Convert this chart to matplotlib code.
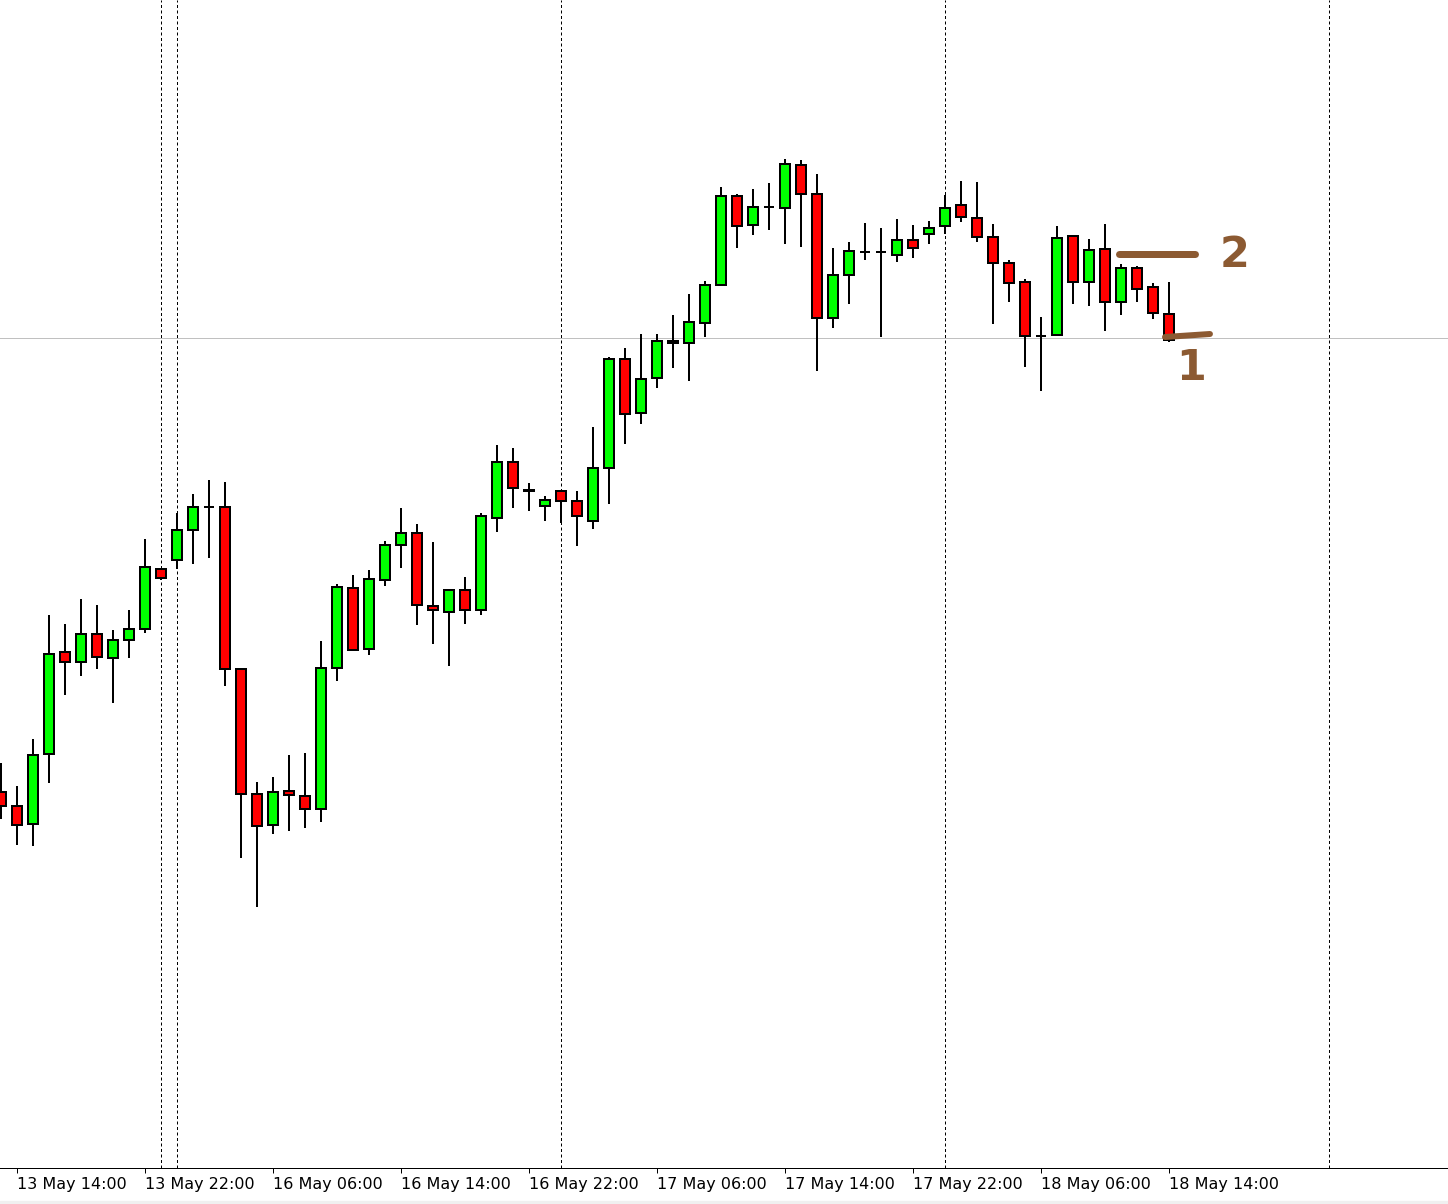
import matplotlib
matplotlib.use("Agg")
import matplotlib.pyplot as plt
from matplotlib.patches import Rectangle

# hourly candles, price levels (screen units, bottom = 0)
opens = [376, 362, 344, 414, 516, 506, 534, 510, 528, 539,
         599, 608, 638, 661, 661, 499, 374, 343, 377, 372,
         359, 500, 580, 519, 588, 623, 635, 562, 556, 578,
         558, 650, 706, 678, 662, 677, 667, 647, 700, 809,
         755, 790, 827, 825, 845, 883, 972, 943, 961, 960,
         1003, 974, 850, 893, 916, 916, 913, 928, 934, 942,
         963, 950, 931, 905, 886, 832, 833, 932, 886, 919,
         866, 900, 881, 854]
highs = [405, 382, 429, 553, 544, 569, 563, 538, 558, 629,
         599, 655, 674, 688, 686, 499, 386, 391, 413, 415,
         527, 584, 593, 598, 627, 660, 644, 626, 578, 591,
         655, 723, 720, 685, 672, 678, 677, 741, 811, 820,
         834, 834, 853, 874, 887, 981, 974, 979, 985, 1009,
         1008, 994, 920, 926, 945, 940, 949, 943, 947, 973,
         987, 986, 944, 908, 889, 851, 942, 933, 929, 944,
         904, 902, 885, 886]
lows = [349, 323, 322, 385, 473, 492, 499, 465, 510, 535,
        588, 599, 604, 610, 482, 310, 261, 334, 337, 340,
        346, 487, 518, 513, 582, 600, 543, 524, 502, 544,
        553, 636, 660, 657, 647, 645, 622, 639, 664, 724,
        744, 780, 800, 787, 831, 883, 920, 933, 938, 924,
        921, 797, 840, 864, 908, 831, 906, 910, 924, 934,
        946, 926, 844, 866, 801, 777, 833, 864, 862, 837,
        853, 866, 849, 826]
closes = [362, 343, 413, 514, 506, 534, 511, 528, 539, 601,
          590, 638, 661, 661, 499, 374, 342, 376, 373, 359,
          500, 581, 518, 589, 623, 635, 563, 558, 578, 558,
          652, 706, 680, 677, 668, 667, 652, 700, 809, 754,
          789, 827, 825, 846, 883, 972, 942, 961, 961, 1004,
          974, 850, 893, 917, 916, 916, 928, 920, 940, 960,
          951, 931, 905, 885, 832, 832, 930, 886, 918, 866,
          900, 879, 855, 828]

tick_idx = [1, 9, 17, 25, 33, 41, 49, 57, 65, 73]
tick_labels = ["13 May 14:00", "13 May 22:00", "16 May 06:00", "16 May 14:00",
               "16 May 22:00", "17 May 06:00", "17 May 14:00", "17 May 22:00",
               "18 May 06:00", "18 May 14:00"]
separators = [10, 11, 35, 59, 83]
hline_level = 830

# hand drawn marks on the right
mark2_x, mark2_level = (69.9, 74.6), 914
mark1_x, mark1_level = (72.75, 75.56), (831, 834)
BROWN = "#8c5a32"

W, H = 1448, 1204
fig = plt.figure(figsize=(W / 100, H / 100), dpi=100)
ax = fig.add_axes([0, 36 / H, 1, 1168 / H])

px = 0.72  # one pixel in points

for x in separators:
    ax.axvline(x, color="black", lw=px, ls=(0, (3, 2.5)), zorder=1)
ax.axhline(hline_level, color="#c0c0c0", lw=px, zorder=1, antialiased=False)

idx = list(range(len(opens)))
ax.vlines(idx, lows, highs, color="black", lw=1.5 * px, zorder=2,
          antialiased=False)
for i in idx:
    o, c = opens[i], closes[i]
    col = "#00ff00" if c > o else "#ff0000"
    ax.bar(i, abs(c - o) if c != o else 0.001, bottom=min(o, c), width=0.57,
           color=col, edgecolor="black", linewidth=1.5 * px, zorder=3,
           antialiased=False)

# annotations
ax.plot(mark2_x, (mark2_level, mark2_level), color=BROWN, lw=7 * px,
        solid_capstyle="round", zorder=5)
ax.plot(mark1_x, mark1_level, color=BROWN, lw=6 * px,
        solid_capstyle="round", zorder=5)
ax.text(77.1, 913, "2", color=BROWN, fontsize=31, fontweight="bold",
        ha="center", va="center", zorder=5)
ax.text(74.4, 800, "1", color=BROWN, fontsize=31, fontweight="bold",
        ha="center", va="center", zorder=5)

ax.set_xlim(-1 / 16, (W - 1) / 16)
ax.set_ylim(0, 1168)
ax.set_yticks([])
ax.set_xticks(tick_idx)
ax.set_xticklabels(tick_labels, fontsize=11.5, ha="left")
ax.tick_params(axis="x", direction="out", length=3.6, width=px, pad=3)
for s in ["top", "left", "right"]:
    ax.spines[s].set_visible(False)
ax.spines["bottom"].set_linewidth(px)

fig.patches.append(Rectangle((0, 0), 1, 3 / H, transform=fig.transFigure,
                             color="#f0f0f0"))

fig.savefig("out.png", dpi=100)
